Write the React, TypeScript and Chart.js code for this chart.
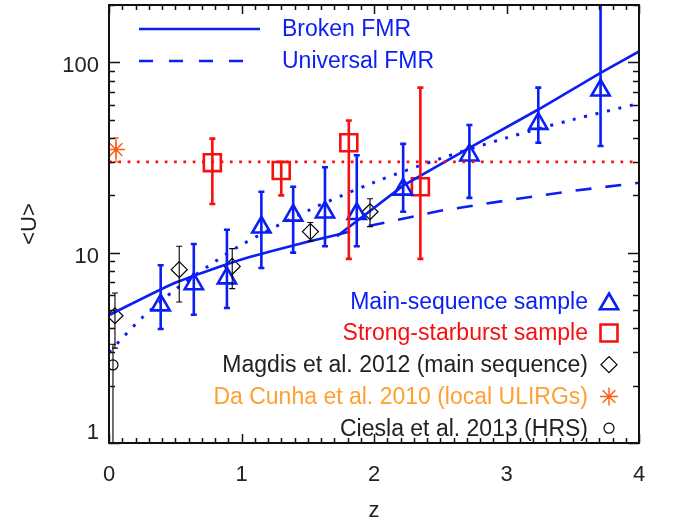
import React, { useEffect, useRef } from 'react';
import { Chart, registerables } from 'chart.js';
import { drawPoint } from 'chart.js/helpers';

Chart.register(...registerables);

// ---------- data ----------
const msZ = [0.39, 0.64, 0.89, 1.15, 1.39, 1.63, 1.87, 2.22, 2.72, 3.24, 3.71];
const msU = [5.3, 6.85, 7.35, 13.6, 15.7, 16.3, 16.0, 21.5, 32.5, 47.6, 71.3];
const msLo = [3.97, 4.72, 5.12, 8.3, 10.0, 10.8, 10.8, 16.4, 19.4, 37.8, 36.3];
const msHi = [8.58, 11.1, 13.2, 20.9, 22.2, 28.1, 32.5, 37.3, 46.8, 73.6, 260];

const sbZ = [0.78, 1.3, 1.81, 2.35];
const sbU = [29.7, 27.0, 37.8, 22.2];
const sbLo = [18.0, 20.0, 9.27, 9.27];
const sbHi = [39.7, 30.0, 49.5, 73.6];

const magZ = [0.045, 0.53, 0.93, 1.52, 1.97];
const magU = [4.66, 8.14, 8.47, 12.9, 16.4];
const magLo = [3.15, 5.5, 6.47, 11.5, 13.7];
const magHi = [6.14, 10.8, 10.5, 14.4, 19.2];

const dcZ = [0.053];
const dcU = [34.8];
const dcLo = [30.0];
const dcHi = [40.1];

const ciZ = [0.03];
const ciU = [2.57];
const ciLo = [0.8];
const ciHi = [3.3];

const brokenLowZ = [0, 0.5, 1.0, 1.5, 1.82];
const brokenLowU = [4.7, 6.95, 9.2, 11.4, 12.9];
const brokenHighZ = [1.72, 2.22, 2.72, 3.24, 3.71, 4.0];
const brokenHighU = [12.2, 22.5, 35.5, 56.5, 88, 114];
const universalZ = [1.96, 2.5, 3.0, 3.5, 4.0];
const universalU = [13.8, 16.6, 18.8, 21.1, 23.3];
const fitZ = [0, 0.25, 0.5, 0.75, 1, 1.5, 2, 2.5, 3, 3.5, 4];
const fitU = [3.0, 4.55, 6.4, 8.5, 11.0, 16.6, 23.4, 31.2, 40.1, 50.0, 60.8];
const sbLevelZ = [0, 4];
const sbLevelU = [30, 30];

const xTickLabels = ['0', '1', '2', '3', '4'];
const yTickValues = [1, 10, 100];
const yTickLabels = ['1', '10', '100'];

const legendLines = ['Broken FMR', 'Universal FMR'];
const legendPoints = [
  'Main-sequence sample',
  'Strong-starburst sample',
  'Magdis et al. 2012 (main sequence)',
  'Da Cunha et al. 2010 (local ULIRGs)',
  'Ciesla et al. 2013 (HRS)',
];

// ---------- styles ----------
const BLUE = '#0a1ef5';
const RED = '#f81010';
const BLACK = '#000000';
const ORANGE = '#ff5a10';
const ORANGE_TXT = '#ffa030';
const TXT = '#222222';
const FONT = '"Liberation Sans", Arial, Helvetica, sans-serif';

const pts = (xs: number[], ys: number[]) => xs.map((v, i) => ({ x: v, y: ys[i] }));

const errorBarPlugin = {
  id: 'errbars',
  afterDatasetsDraw(chart: any) {
    const { ctx, chartArea, scales } = chart;
    const xs = scales.x;
    const ys = scales.y;
    ctx.save();
    ctx.beginPath();
    ctx.rect(chartArea.left, chartArea.top, chartArea.right - chartArea.left, chartArea.bottom - chartArea.top);
    ctx.clip();
    chart.data.datasets.forEach((ds: any) => {
      if (!ds.errLo) return;
      ctx.strokeStyle = ds.errColor;
      ctx.lineWidth = ds.errWidth;
      const cap = 3;
      ds.data.forEach((p: any, j: number) => {
        const px = xs.getPixelForValue(p.x);
        const yl = ys.getPixelForValue(ds.errLo[j]);
        const yh = ys.getPixelForValue(ds.errHi[j]);
        ctx.beginPath();
        ctx.moveTo(px, yl);
        ctx.lineTo(px, yh);
        ctx.moveTo(px - cap, yl);
        ctx.lineTo(px + cap, yl);
        ctx.moveTo(px - cap, yh);
        ctx.lineTo(px + cap, yh);
        ctx.stroke();
      });
    });
    ctx.restore();
  },
};

const framePlugin = {
  id: 'frame',
  afterDraw(chart: any) {
    const { ctx, chartArea, scales } = chart;
    const xs = scales.x;
    const ys = scales.y;
    const { left, right, top, bottom } = chartArea;
    ctx.save();
    ctx.strokeStyle = '#111';
    ctx.lineWidth = 1.5;
    // x ticks (inward, top and bottom)
    for (let i = 0; i <= 40; i++) {
      const px = Math.round(xs.getPixelForValue(i / 10)) + 0.5;
      const len = i % 10 === 0 ? 9 : 5;
      ctx.beginPath();
      ctx.moveTo(px, bottom);
      ctx.lineTo(px, bottom - len);
      ctx.moveTo(px, top);
      ctx.lineTo(px, top + len);
      ctx.stroke();
    }
    // y ticks (log, inward, left and right)
    for (let d = 1; d <= 100; d *= 10) {
      for (let m = 1; m <= 9; m++) {
        const v = d * m;
        if (v < ys.min || v > ys.max) continue;
        const py = Math.round(ys.getPixelForValue(v)) + 0.5;
        const len = m === 1 ? 11 : 6;
        ctx.beginPath();
        ctx.moveTo(left, py);
        ctx.lineTo(left + len, py);
        ctx.moveTo(right, py);
        ctx.lineTo(right - len, py);
        ctx.stroke();
      }
    }
    ctx.lineWidth = 2;
    ctx.strokeRect(left, top, right - left, bottom - top);

    // y tick labels
    ctx.fillStyle = TXT;
    ctx.font = `22px ${FONT}`;
    ctx.textAlign = 'right';
    ctx.textBaseline = 'middle';
    yTickValues.forEach((v, i) => {
      const py = ys.getPixelForValue(v);
      const off = v === ys.min ? -10 : 4;
      ctx.fillText(yTickLabels[i], left - 10, py + off);
    });

    // top-left legend (lines)
    ctx.lineWidth = 2.6;
    ctx.strokeStyle = BLUE;
    ctx.beginPath();
    ctx.moveTo(139, 29);
    ctx.lineTo(260, 29);
    ctx.stroke();
    ctx.setLineDash([14, 16]);
    ctx.beginPath();
    ctx.moveTo(139, 61);
    ctx.lineTo(244, 61);
    ctx.stroke();
    ctx.setLineDash([]);
    ctx.font = `23px ${FONT}`;
    ctx.textAlign = 'left';
    ctx.fillStyle = BLUE;
    ctx.fillText(legendLines[0], 282, 30);
    ctx.fillText(legendLines[1], 282, 62);

    // bottom-right legend (points)
    const rowY = [301.5, 333, 364.7, 396.5, 428.2];
    const colors = [BLUE, RED, TXT, ORANGE_TXT, TXT];
    const styles = [
      { pointStyle: 'triangle', radius: 10.5, borderWidth: 2.6, color: BLUE },
      { pointStyle: 'rect', radius: 12, borderWidth: 2.6, color: RED },
      { pointStyle: 'rectRot', radius: 8, borderWidth: 1.2, color: BLACK },
      { pointStyle: 'star', radius: 9, borderWidth: 1.4, color: ORANGE },
      { pointStyle: 'circle', radius: 5, borderWidth: 1.2, color: BLACK },
    ];
    ctx.textAlign = 'right';
    legendPoints.forEach((t, i) => {
      ctx.fillStyle = colors[i];
      ctx.fillText(t, 588, rowY[i] + 1);
      const s = styles[i];
      ctx.strokeStyle = s.color;
      ctx.fillStyle = 'rgba(0,0,0,0)';
      ctx.lineWidth = s.borderWidth;
      const yy = s.pointStyle === 'triangle' ? rowY[i] + 2.5 : rowY[i];
      drawPoint(ctx, { pointStyle: s.pointStyle as any, radius: s.radius, rotation: 0, borderWidth: s.borderWidth }, 609, yy);
    });
    ctx.restore();
  },
};

export default function App() {
  const ref = useRef<HTMLCanvasElement | null>(null);

  useEffect(() => {
    document.body.style.margin = '0';
    const canvas = ref.current;
    if (!canvas) return;

    const lineDs = (data: any[], opts: any) => ({
      type: 'scatter',
      data,
      showLine: true,
      pointRadius: 0,
      pointHoverRadius: 0,
      fill: false,
      borderCapStyle: 'butt',
      ...opts,
    });
    const markerDs = (data: any[], opts: any) => ({
      type: 'scatter',
      data,
      showLine: false,
      backgroundColor: 'rgba(0,0,0,0)',
      ...opts,
    });

    const chart = new Chart(canvas, {
      type: 'scatter',
      data: {
        datasets: [
          lineDs(pts(sbLevelZ, sbLevelU), { borderColor: RED, borderWidth: 2.7, borderDash: [2.7, 6.6] }),
          lineDs(pts(fitZ, fitU), { borderColor: BLUE, borderWidth: 3, borderDash: [3, 8.7], tension: 0.3 }),
          lineDs(pts(universalZ, universalU), { borderColor: BLUE, borderWidth: 2.6, borderDash: [16, 14] }),
          lineDs(pts(brokenLowZ, brokenLowU), { borderColor: BLUE, borderWidth: 2.6, tension: 0.2 }),
          lineDs(pts(brokenHighZ, brokenHighU), { borderColor: BLUE, borderWidth: 2.6 }),
          markerDs(pts(msZ, msU), {
            pointStyle: 'triangle', pointRadius: 10.5, borderColor: BLUE, borderWidth: 2.6,
            errLo: msLo, errHi: msHi, errColor: BLUE, errWidth: 2.6,
          }),
          markerDs(pts(sbZ, sbU), {
            pointStyle: 'rect', pointRadius: 12, borderColor: RED, borderWidth: 2.6,
            errLo: sbLo, errHi: sbHi, errColor: RED, errWidth: 2.6,
          }),
          markerDs(pts(magZ, magU), {
            pointStyle: 'rectRot', pointRadius: 8, borderColor: BLACK, borderWidth: 1.2,
            errLo: magLo, errHi: magHi, errColor: BLACK, errWidth: 1.1,
          }),
          markerDs(pts(dcZ, dcU), {
            pointStyle: 'star', pointRadius: 9, borderColor: ORANGE, borderWidth: 1.4,
            errLo: dcLo, errHi: dcHi, errColor: ORANGE, errWidth: 1.2,
          }),
          markerDs(pts(ciZ, ciU), {
            pointStyle: 'circle', pointRadius: 5, borderColor: BLACK, borderWidth: 1.2,
            errLo: ciLo, errHi: ciHi, errColor: BLACK, errWidth: 1.1,
          }),
        ] as any,
      },
      options: {
        animation: false,
        responsive: false,
        devicePixelRatio: 1,
        layout: { autoPadding: false, padding: { left: 0, right: 36, top: 5, bottom: 0 } },
        plugins: {
          legend: { display: false },
          tooltip: { enabled: false },
        },
        events: [],
        scales: {
          x: {
            type: 'linear',
            min: 0,
            max: 4,
            grid: { display: false, drawTicks: false },
            border: { display: false },
            ticks: {
              stepSize: 1,
              padding: 19,
              color: TXT,
              font: { family: FONT, size: 22 },
              callback: (v: any) => xTickLabels[Math.round(Number(v))] ?? '',
            },
            title: { display: true, text: 'z', color: TXT, font: { family: FONT, size: 22 }, padding: { top: 0, bottom: 0 } },
            afterFit: (s: any) => { s.height = 81; },
          },
          y: {
            type: 'logarithmic',
            min: 1,
            max: 200,
            grid: { display: false, drawTicks: false },
            border: { display: false },
            ticks: { display: false },
            title: { display: true, text: '<U>', color: TXT, font: { family: FONT, size: 22 }, padding: { top: 17, bottom: 0 } },
            afterFit: (s: any) => { s.width = 109; },
          },
        },
      } as any,
      plugins: [errorBarPlugin, framePlugin],
    });

    return () => chart.destroy();
  }, []);

  return (
    <div style={{ position: 'absolute', left: 0, top: 0, width: 675, height: 524, background: '#fff' }}>
      <canvas ref={ref} width={675} height={524} style={{ width: 675, height: 524, display: 'block' }} />
    </div>
  );
}
